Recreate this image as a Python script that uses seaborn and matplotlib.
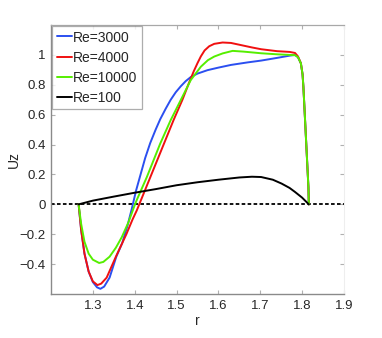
import numpy as np
import pandas as pd
import matplotlib
matplotlib.use("Agg")
import matplotlib.pyplot as plt
import seaborn as sns

# ---- data ----
labels = ["Re=3000", "Re=4000", "Re=10000", "Re=100"]
colors = ["#2b4ff0", "#f01010", "#55ee00", "#000000"]

r_3000 = [1.266, 1.272, 1.280, 1.290, 1.300, 1.310, 1.318, 1.327, 1.340, 1.356, 1.370,
          1.383, 1.393, 1.403, 1.413, 1.425, 1.437, 1.450, 1.461, 1.474, 1.486, 1.498,
          1.510, 1.522, 1.534, 1.550, 1.574, 1.600, 1.630, 1.670, 1.702, 1.740, 1.770,
          1.783, 1.790, 1.797, 1.801, 1.803, 1.807, 1.811, 1.815, 1.816]
u_3000 = [0.0, -0.17, -0.33, -0.45, -0.52, -0.555, -0.565, -0.55, -0.49, -0.35, -0.26,
          -0.14, -0.03, 0.09, 0.19, 0.31, 0.41, 0.50, 0.57, 0.64, 0.70, 0.75,
          0.79, 0.825, 0.852, 0.875, 0.898, 0.915, 0.933, 0.95, 0.962, 0.98, 0.995,
          1.0, 0.985, 0.944, 0.87, 0.787, 0.564, 0.34, 0.116, 0.0]

r_4000 = [1.266, 1.272, 1.280, 1.290, 1.300, 1.311, 1.320, 1.333, 1.355, 1.380, 1.395,
          1.405, 1.437, 1.469, 1.493, 1.514, 1.530, 1.541, 1.550, 1.558, 1.567, 1.578,
          1.590, 1.610, 1.630, 1.650, 1.680, 1.702, 1.740, 1.770, 1.783, 1.790, 1.797,
          1.801, 1.803, 1.807, 1.811, 1.815, 1.816]
u_4000 = [0.0, -0.17, -0.33, -0.45, -0.515, -0.54, -0.53, -0.49, -0.35, -0.20, -0.10,
          -0.04, 0.18, 0.40, 0.565, 0.70, 0.815, 0.89, 0.945, 0.99, 1.03, 1.058,
          1.074, 1.083, 1.08, 1.068, 1.05, 1.038, 1.025, 1.02, 1.013, 0.99, 0.944,
          0.87, 0.787, 0.564, 0.34, 0.116, 0.0]

r_10000 = [1.266, 1.272, 1.280, 1.290, 1.300, 1.315, 1.325, 1.340, 1.355, 1.369, 1.385,
           1.398, 1.405, 1.429, 1.461, 1.486, 1.510, 1.534, 1.558, 1.575, 1.590, 1.610,
           1.634, 1.660, 1.702, 1.740, 1.770, 1.783, 1.790, 1.797, 1.801, 1.803, 1.807,
           1.811, 1.815, 1.816]
u_10000 = [0.0, -0.13, -0.25, -0.33, -0.37, -0.392, -0.385, -0.35, -0.29, -0.22, -0.12,
           -0.02, 0.03, 0.183, 0.407, 0.564, 0.698, 0.832, 0.921, 0.965, 0.989, 1.01,
           1.027, 1.022, 1.011, 1.004, 1.0, 0.998, 0.985, 0.944, 0.87, 0.787, 0.564,
           0.34, 0.116, 0.0]

r_100 = [1.266, 1.30, 1.35, 1.40, 1.45, 1.50, 1.55, 1.60, 1.65, 1.68, 1.702, 1.73,
         1.751, 1.77, 1.783, 1.80, 1.816]
u_100 = [0.0, 0.025, 0.052, 0.078, 0.102, 0.128, 0.148, 0.165, 0.18, 0.185, 0.183,
         0.165, 0.139, 0.11, 0.083, 0.045, 0.0]

x_ticks = [1.3, 1.4, 1.5, 1.6, 1.7, 1.8, 1.9]
y_ticks = [-0.4, -0.2, 0, 0.2, 0.4, 0.6, 0.8, 1]

frames = []
for lab, rr, uu in zip(labels, [r_3000, r_4000, r_10000, r_100],
                       [u_3000, u_4000, u_10000, u_100]):
    frames.append(pd.DataFrame({"r": rr, "Uz": uu, "case": lab}))
df = pd.concat(frames, ignore_index=True)

sns.set_style("white")
plt.rcParams["font.family"] = ["Liberation Sans", "DejaVu Sans"]

fig = plt.figure(figsize=(3.82, 3.38), dpi=100)
ax = fig.add_axes([0.1335, 0.130, 0.767, 0.796])

ax.axhline(0, color="black", lw=1.3, linestyle=(0, (2.0, 1.3)), zorder=1)

sns.lineplot(data=df, x="r", y="Uz", hue="case", hue_order=labels,
             palette=colors, sort=False, estimator=None, units="case",
             lw=1.4, ax=ax, zorder=3)

ax.set_xlim(1.2, 1.9)
ax.set_ylim(-0.6, 1.2)
ax.set_xticks(x_ticks)
ax.set_xticklabels([f"{t:g}" for t in x_ticks])
ax.set_yticks(y_ticks)
ax.set_yticklabels([f"{t:g}".replace("-", "\u2212") for t in y_ticks])

ax.tick_params(direction="in", length=3, width=0.8, color="#b0b0b0",
               labelsize=9.5, pad=4, top=True, right=True, bottom=True, left=True)
for side in ["left", "bottom"]:
    ax.spines[side].set_color("#8a8a8a")
    ax.spines[side].set_linewidth(1.0)
ax.spines["top"].set_color("#a8a8a8")
ax.spines["top"].set_linewidth(0.9)
ax.spines["right"].set_color("#eeeeee")
ax.spines["right"].set_linewidth(0.8)

ax.set_xlabel("r", fontsize=10, labelpad=2)
ax.set_ylabel("Uz", fontsize=10, labelpad=-1)

leg = ax.legend(loc="upper left", fontsize=10, handlelength=1.1, handletextpad=0.1,
                borderaxespad=0.1, borderpad=0.3, labelspacing=0.45,
                handleheight=0.9, frameon=True, fancybox=False, title=None)
leg._legend_box.sep = 2
leg.get_frame().set_edgecolor("#999999")
leg.get_frame().set_linewidth(0.9)
for h in leg.get_lines():
    h.set_linewidth(1.4)

fig.savefig("out.png", dpi=100)
